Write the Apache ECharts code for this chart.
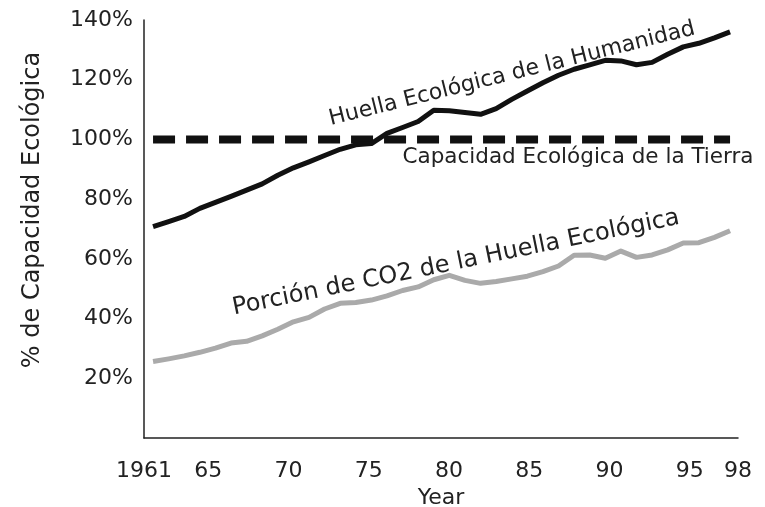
<!DOCTYPE html>
<html>
<head>
<meta charset="utf-8">
<script src="https://cdn.jsdelivr.net/npm/echarts@6/dist/echarts.min.js"></script>
<style>html,body{margin:0;padding:0;background:#fff;}#c{width:765px;height:507px;}</style>
</head>
<body>
<div id="c"></div>
<script>
var years = [1961,1962,1963,1964,1965,1966,1967,1968,1969,1970,1971,1972,1973,1974,1975,1976,1977,1978,1979,1980,1981,1982,1983,1984,1985,1986,1987,1988,1989,1990,1991,1992,1993,1994,1995,1996,1997,1998];
var huellaHumanidad = [70.8,72.5,74.2,76.9,78.9,80.9,83.0,85.1,88.0,90.5,92.5,94.6,96.7,98.2,98.6,102.0,104.0,106.0,109.8,109.6,109.0,108.4,110.3,113.4,116.2,119.0,121.5,123.5,125.0,126.5,126.3,125.0,125.8,128.5,131.0,132.2,134.0,136.0];
var porcionCO2 = [25.6,26.5,27.5,28.7,30.1,31.8,32.4,34.2,36.4,38.9,40.4,43.2,45.1,45.4,46.2,47.6,49.4,50.6,53.0,54.5,52.8,51.8,52.4,53.3,54.2,55.7,57.6,61.2,61.3,60.2,62.6,60.5,61.3,63.0,65.3,65.4,67.2,69.4];
var capacidadTierra = [100, 100];
var capacidadYears = [1961, 1998];
var xTickYears = [1961,1965,1970,1975,1980,1985,1990,1995,1998];
var xTickLabels = ['1961','65','70','75','80','85','90','95','98'];
var yTicks = [20,40,60,80,100,120,140];

var FONT = 'DejaVu Sans';
var TXT = '#222';

function pairs(xs, ys){ return xs.map(function(x,i){ return [x, ys[i]]; }); }

var chart = echarts.init(document.getElementById('c'), null, {renderer:'canvas'});
chart.setOption({
  animation: false,
  backgroundColor: '#fff',
  grid: {left:144, right:27, top:20, bottom:69, containLabel:false, outerBoundsMode:'none'},
  xAxis: [
    {
      type:'category', data: years.map(String), boundaryGap:false,
      axisLine:{show:true, lineStyle:{color:'#222', width:1.5}},
      axisTick:{show:false},
      splitLine:{show:false},
      axisLabel:{
        interval: function(i, v){ return xTickYears.indexOf(+v) >= 0; },
        formatter: function(v){ var k = xTickYears.indexOf(+v); return k>=0 ? xTickLabels[k] : ''; },
        color:TXT, fontFamily:FONT, fontSize:22, margin:22
      },
      name:'Year', nameLocation:'middle', nameGap:48,
      nameTextStyle:{color:TXT, fontFamily:FONT, fontSize:22}
    },
    {
      type:'value', min:1960.42, max:1998.51, show:false
    }
  ],
  yAxis: {
    type:'value', min:0, max:140, interval:20,
    axisLine:{show:true, lineStyle:{color:'#222', width:1.5}},
    axisTick:{show:false},
    splitLine:{show:false},
    axisLabel:{
      formatter:function(v){ return yTicks.indexOf(v)>=0 ? v+'%' : ''; },
      color:TXT, fontFamily:FONT, fontSize:22, margin:11
    },
    name:'% de Capacidad Ecológica', nameLocation:'middle', nameGap:99,
    nameTextStyle:{color:TXT, fontFamily:FONT, fontSize:24, padding:[0,0,0,38]}
  },
  series: [
    {
      type:'line', name:'Capacidad Ecológica de la Tierra', xAxisIndex:1,
      data: pairs(capacidadYears, capacidadTierra), symbol:'none',
      lineStyle:{color:'#111', width:8, type:[22,11], cap:'butt'}
    },
    {
      type:'line', name:'Porción de CO2 de la Huella Ecológica', xAxisIndex:1,
      data: pairs(years, porcionCO2), symbol:'none',
      lineStyle:{color:'#aaaaaa', width:5, join:'round'}
    },
    {
      type:'line', name:'Huella Ecológica de la Humanidad', xAxisIndex:1,
      data: pairs(years, huellaHumanidad), symbol:'none',
      lineStyle:{color:'#111', width:5, join:'round'}
    }
  ],
  graphic: [
    {type:'text', x:512, y:74, rotation:14*Math.PI/180,
     style:{text:'Huella Ecológica de la Humanidad', x:0, y:0, align:'center', verticalAlign:'middle', fill:TXT, font:'22px "DejaVu Sans"'}},
    {type:'text', x:578, y:157,
     style:{text:'Capacidad Ecológica de la Tierra', x:0, y:0, align:'center', verticalAlign:'middle', fill:TXT, font:'21.5px "DejaVu Sans"'}},
    {type:'text', x:456, y:263, rotation:11.5*Math.PI/180,
     style:{text:'Porción de CO2 de la Huella Ecológica', x:0, y:0, align:'center', verticalAlign:'middle', fill:TXT, font:'24px "DejaVu Sans"'}}
  ]
});
</script>
</body>
</html>
